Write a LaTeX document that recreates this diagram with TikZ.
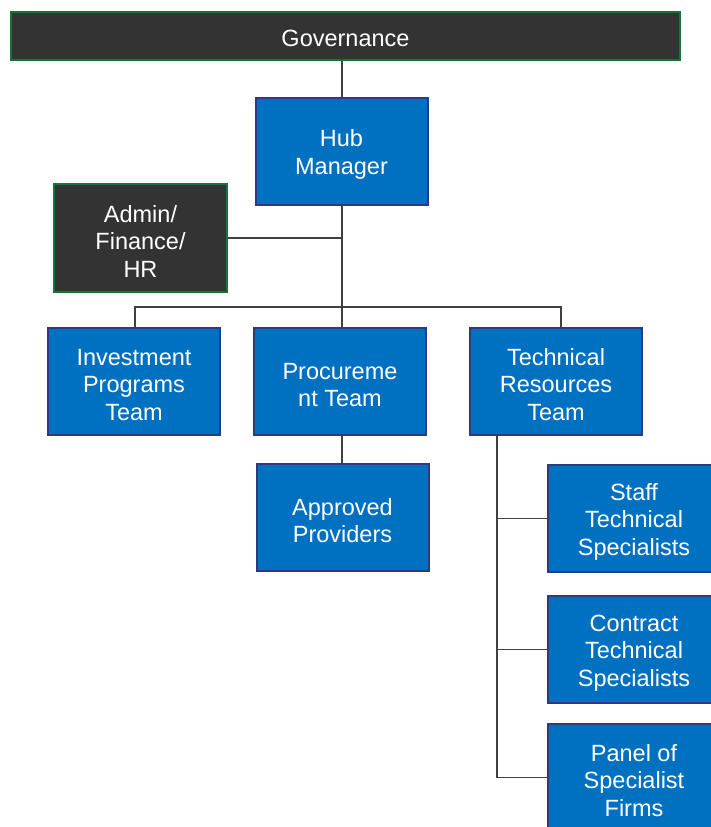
\documentclass[tikz,border=0pt]{standalone}
\usepackage{fontspec}
\setmainfont{Liberation Sans}
\definecolor{boxblue}{HTML}{0070C0}
\definecolor{bluedge}{HTML}{2B3A85}
\definecolor{darkfill}{HTML}{333333}
\definecolor{greenedge}{HTML}{17733A}
\definecolor{linegray}{HTML}{404040}
\newcommand{\topgap}{\rule{0pt}{23pt}}
\begin{document}
\begin{tikzpicture}[x=1pt,y=-1pt,
  txt/.style={text=white,align=center,font=\fontsize{23.5}{27.5}\selectfont,inner sep=0pt},
  bluebox/.style={txt,draw=bluedge,fill=boxblue,line width=2pt,minimum width=172pt,minimum height=107pt},
  darkbox/.style={txt,draw=greenedge,fill=darkfill,line width=2pt},
  conn/.style={draw=linegray,line width=1.3pt}]
\useasboundingbox (0,0) rectangle (710,827);
\node[darkbox,minimum width=669pt,minimum height=48pt] (gov) at (345.5,36) {\rule{0pt}{21pt}Governance};
\node[bluebox] (hub) at (341.5,151.5) {\topgap Hub\\Manager};
\node[darkbox,minimum width=173pt,minimum height=108pt] (admin) at (140.5,238) {\topgap Admin/\\Finance/\\HR};
\node[bluebox] (inv) at (134,381.5) {\topgap Investment\\Programs\\Team};
\node[bluebox] (proc) at (340,381.5) {\topgap Procureme\\nt Team};
\node[bluebox] (tech) at (556,381.5) {\topgap Technical\\Resources\\Team};
\node[bluebox] (appr) at (342.5,517.5) {\topgap Approved\\Providers};
\node[bluebox] (staff) at (634,518.5) {\topgap Staff\\Technical\\Specialists};
\node[bluebox] (contract) at (634,649.5) {\topgap Contract\\Technical\\Specialists};
\node[bluebox] (panel) at (634,777.5) {\topgap Panel of\\Specialist\\Firms};
\coordinate (bus) at (342,307);
\coordinate (busL) at (135,307);
\coordinate (busR) at (561,307);
\coordinate (tv) at (497,435);
\draw[conn] (gov.south -| bus) -- (hub.north -| bus);
\draw[conn] (hub.south -| bus) -- (bus);
\draw[conn] (admin.east) -- (admin.east -| bus);
\draw[conn] (busL |- inv.north) -- (busL) -- (busR) -- (busR |- tech.north);
\draw[conn] (bus) -- (proc.north -| bus);
\draw[conn] (proc.south -| bus) -- (appr.north -| bus);
\draw[conn] (tv |- tech.south) -- (tv |- panel.west) -- (panel.west);
\draw[conn] (tv |- staff.west) -- (staff.west);
\draw[conn] (tv |- contract.west) -- (contract.west);
\end{tikzpicture}
\end{document}
